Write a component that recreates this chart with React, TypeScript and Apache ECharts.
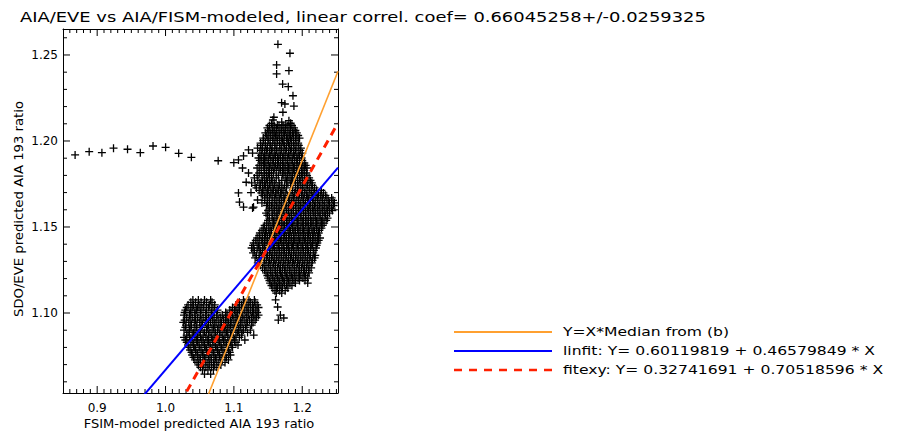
import React, { useEffect, useRef } from "react";
import * as echarts from "echarts";

const TITLE = "AIA/EVE vs AIA/FISM-modeled, linear correl. coef= 0.66045258+/-0.0259325";
const X_NAME = "FSIM-model predicted AIA 193 ratio";
const Y_NAME = "SDO/EVE predicted AIA 193 ratio";
const LEGEND_TEXTS = [
  "Y=X*Median from (b)",
  "linfit: Y= 0.60119819 + 0.46579849 * X",
  "fitexy: Y= 0.32741691 + 0.70518596 * X",
];

const X_MIN = 0.85;
const X_MAX = 1.2523;
const Y_MIN = 1.0535;
const Y_MAX = 1.2651;
const xMajor = [0.9, 1.0, 1.1, 1.2];
const yMajor = [1.1, 1.15, 1.2, 1.25];

const MEDIAN = 0.9906;
const LINFIT = [0.60119819, 0.46579849];
const FITEXY = [0.32741691, 0.70518596];

// isolated points (left row, upper spike, scattered arm, tail)
const isolated: number[][] = [
  [0.8677, 1.1919], [0.8883, 1.1938], [0.9069, 1.1932], [0.9239, 1.1958], [0.9444, 1.1952],
  [0.9631, 1.1932], [0.9817, 1.1971], [1.0001, 1.1963], [1.0192, 1.1928], [1.0378, 1.1905],
  [1.077, 1.1885], [1.0999, 1.1874],
  [1.1644, 1.2562], [1.182, 1.251], [1.1625, 1.2442], [1.1805, 1.2409], [1.1625, 1.239],
  [1.1713, 1.2331], [1.1796, 1.2316], [1.1864, 1.2263], [1.1698, 1.2223], [1.1746, 1.2215],
  [1.1878, 1.2203], [1.1717, 1.2167], [1.1585, 1.2138], [1.1571, 1.2122], [1.1805, 1.2118],
  [1.183, 1.2103], [1.1635, 1.2093], [1.170, 1.2110], [1.176, 1.2098], [1.155, 1.2102],
  [1.1067, 1.189], [1.1141, 1.1913], [1.1273, 1.193], [1.1346, 1.1959], [1.1214, 1.1948],
  [1.1126, 1.1843], [1.1214, 1.1814], [1.1067, 1.1698], [1.1082, 1.1645], [1.1141, 1.1616],
  [1.1287, 1.1616], [1.1346, 1.1657], [1.1273, 1.161], [1.118, 1.1760], [1.125, 1.1700],
  [1.161, 1.1076], [1.164, 1.1035], [1.168, 1.0988], [1.165, 1.0959], [1.173, 1.0971],
];

// dense clusters, one row per y value with the x values read on that row
const upperRows: [number, number[]][] = [
  [1.2090, [1.152, 1.159, 1.166, 1.172, 1.179, 1.185]],
  [1.2076, [1.149, 1.156, 1.162, 1.169, 1.175, 1.182, 1.188]],
  [1.2061, [1.151, 1.157, 1.163, 1.170, 1.176, 1.183, 1.190]],
  [1.2047, [1.146, 1.153, 1.159, 1.166, 1.173, 1.179, 1.186, 1.192]],
  [1.2032, [1.148, 1.154, 1.161, 1.167, 1.174, 1.181, 1.187, 1.194]],
  [1.2017, [1.143, 1.150, 1.157, 1.163, 1.170, 1.177, 1.183, 1.190, 1.196]],
  [1.2003, [1.143, 1.150, 1.157, 1.164, 1.171, 1.178, 1.184, 1.191]],
  [1.1988, [1.139, 1.146, 1.153, 1.160, 1.167, 1.173, 1.180, 1.187, 1.194]],
  [1.1974, [1.139, 1.146, 1.153, 1.160, 1.167, 1.174, 1.181, 1.188, 1.195]],
  [1.1959, [1.142, 1.149, 1.156, 1.163, 1.170, 1.177, 1.184, 1.191, 1.198]],
  [1.1945, [1.141, 1.148, 1.155, 1.162, 1.169, 1.176, 1.183, 1.190, 1.197]],
  [1.1930, [1.138, 1.145, 1.152, 1.159, 1.166, 1.173, 1.180, 1.187, 1.194, 1.200]],
  [1.1916, [1.140, 1.147, 1.154, 1.161, 1.168, 1.175, 1.182, 1.189, 1.196]],
  [1.1901, [1.136, 1.143, 1.150, 1.157, 1.164, 1.171, 1.178, 1.185, 1.192, 1.199]],
  [1.1887, [1.138, 1.145, 1.151, 1.158, 1.165, 1.172, 1.179, 1.186, 1.193, 1.200]],
  [1.1872, [1.140, 1.147, 1.154, 1.161, 1.168, 1.175, 1.182, 1.189, 1.196, 1.203]],
  [1.1858, [1.137, 1.143, 1.150, 1.157, 1.164, 1.171, 1.178, 1.185, 1.192, 1.199, 1.205]],
  [1.1843, [1.134, 1.145, 1.152, 1.159, 1.166, 1.173, 1.180, 1.187, 1.194, 1.201, 1.207]],
  [1.1829, [1.140, 1.148, 1.155, 1.162, 1.168, 1.175, 1.182, 1.189, 1.196, 1.203]],
  [1.1814, [1.137, 1.144, 1.151, 1.158, 1.171, 1.178, 1.185, 1.192, 1.199, 1.206]],
  [1.1800, [1.134, 1.145, 1.152, 1.165, 1.172, 1.179, 1.186, 1.193, 1.200, 1.207]],
  [1.1785, [1.130, 1.141, 1.148, 1.155, 1.162, 1.175, 1.182, 1.189, 1.196, 1.203, 1.210]],
  [1.1771, [1.135, 1.142, 1.149, 1.156, 1.170, 1.177, 1.184, 1.190, 1.197, 1.204, 1.212]],
  [1.1756, [1.126, 1.138, 1.145, 1.152, 1.159, 1.166, 1.179, 1.186, 1.193, 1.200, 1.207, 1.214]],
  [1.1742, [1.131, 1.139, 1.146, 1.153, 1.160, 1.167, 1.174, 1.183, 1.194, 1.201, 1.208, 1.215]],
  [1.1727, [1.133, 1.142, 1.149, 1.156, 1.163, 1.170, 1.177, 1.190, 1.197, 1.204, 1.211, 1.218]],
  [1.1713, [1.137, 1.144, 1.151, 1.158, 1.165, 1.172, 1.186, 1.193, 1.200, 1.207, 1.214, 1.221, 1.228]],
  [1.1698, [1.140, 1.147, 1.154, 1.161, 1.168, 1.175, 1.182, 1.189, 1.196, 1.203, 1.210, 1.217, 1.224, 1.231]],
  [1.1684, [1.142, 1.149, 1.156, 1.163, 1.170, 1.178, 1.185, 1.192, 1.199, 1.206, 1.213, 1.220, 1.227, 1.234]],
  [1.1669, [1.145, 1.152, 1.159, 1.166, 1.173, 1.180, 1.187, 1.194, 1.201, 1.208, 1.215, 1.222, 1.229, 1.236, 1.243]],
  [1.1655, [1.145, 1.152, 1.160, 1.167, 1.174, 1.181, 1.188, 1.195, 1.202, 1.209, 1.216, 1.223, 1.230, 1.238, 1.245]],
  [1.1640, [1.141, 1.149, 1.156, 1.163, 1.170, 1.177, 1.184, 1.191, 1.198, 1.205, 1.212, 1.219, 1.226, 1.233, 1.240, 1.247]],
  [1.1625, [1.148, 1.155, 1.162, 1.169, 1.176, 1.183, 1.190, 1.197, 1.204, 1.211, 1.218, 1.225, 1.232, 1.239, 1.246]],
  [1.1610, [1.152, 1.159, 1.166, 1.173, 1.180, 1.187, 1.194, 1.201, 1.208, 1.215, 1.222, 1.229, 1.236, 1.243]],
  [1.1596, [1.150, 1.159, 1.166, 1.173, 1.180, 1.187, 1.195, 1.202, 1.209, 1.216, 1.223, 1.230, 1.237, 1.244]],
  [1.1581, [1.147, 1.156, 1.163, 1.170, 1.177, 1.184, 1.191, 1.198, 1.205, 1.212, 1.219, 1.226, 1.233, 1.240]],
  [1.1567, [1.149, 1.156, 1.163, 1.170, 1.177, 1.184, 1.191, 1.198, 1.205, 1.212, 1.219, 1.226, 1.234]],
  [1.1552, [1.152, 1.160, 1.167, 1.174, 1.181, 1.188, 1.195, 1.202, 1.209, 1.216, 1.223, 1.230, 1.237]],
  [1.1538, [1.150, 1.158, 1.165, 1.172, 1.179, 1.186, 1.193, 1.200, 1.207, 1.214, 1.221, 1.228, 1.235]],
  [1.1523, [1.148, 1.156, 1.163, 1.170, 1.177, 1.184, 1.191, 1.198, 1.205, 1.212, 1.219, 1.226, 1.232]],
  [1.1509, [1.145, 1.153, 1.160, 1.167, 1.174, 1.181, 1.188, 1.195, 1.202, 1.209, 1.216, 1.223, 1.230]],
];

const middleRows: [number, number[]][] = [
  [1.1494, [1.143, 1.151, 1.158, 1.165, 1.172, 1.179, 1.186, 1.193, 1.200, 1.207, 1.214, 1.221, 1.228]],
  [1.1480, [1.141, 1.148, 1.155, 1.162, 1.169, 1.176, 1.183, 1.190, 1.197, 1.204, 1.211, 1.218, 1.225]],
  [1.1465, [1.138, 1.146, 1.153, 1.160, 1.167, 1.174, 1.181, 1.188, 1.195, 1.202, 1.209, 1.216, 1.224]],
  [1.1451, [1.137, 1.145, 1.152, 1.159, 1.166, 1.173, 1.180, 1.187, 1.194, 1.201, 1.208, 1.215, 1.222]],
  [1.1436, [1.134, 1.142, 1.149, 1.156, 1.163, 1.170, 1.177, 1.184, 1.191, 1.198, 1.205, 1.212, 1.219, 1.226]],
  [1.1422, [1.132, 1.140, 1.147, 1.154, 1.161, 1.168, 1.175, 1.182, 1.189, 1.196, 1.203, 1.210, 1.217, 1.224]],
  [1.1407, [1.129, 1.137, 1.145, 1.152, 1.159, 1.166, 1.173, 1.180, 1.187, 1.194, 1.201, 1.208, 1.215, 1.222]],
  [1.1393, [1.128, 1.136, 1.144, 1.151, 1.158, 1.165, 1.172, 1.179, 1.186, 1.193, 1.200, 1.207, 1.214, 1.221]],
  [1.1378, [1.126, 1.134, 1.142, 1.149, 1.156, 1.163, 1.170, 1.177, 1.184, 1.191, 1.198, 1.205, 1.212, 1.220]],
  [1.1364, [1.130, 1.139, 1.146, 1.153, 1.160, 1.167, 1.174, 1.181, 1.188, 1.195, 1.202, 1.209, 1.217]],
  [1.1349, [1.128, 1.137, 1.145, 1.152, 1.159, 1.166, 1.173, 1.180, 1.187, 1.194, 1.201, 1.208, 1.216]],
  [1.1335, [1.133, 1.141, 1.149, 1.156, 1.163, 1.170, 1.177, 1.184, 1.191, 1.198, 1.205, 1.212, 1.219]],
  [1.1320, [1.131, 1.140, 1.148, 1.155, 1.162, 1.169, 1.176, 1.183, 1.190, 1.197, 1.204, 1.211, 1.218]],
  [1.1306, [1.137, 1.145, 1.152, 1.159, 1.166, 1.173, 1.180, 1.187, 1.194, 1.201, 1.208, 1.215]],
  [1.1291, [1.135, 1.144, 1.151, 1.158, 1.165, 1.172, 1.179, 1.186, 1.193, 1.200, 1.207, 1.214]],
  [1.1277, [1.139, 1.147, 1.154, 1.161, 1.168, 1.175, 1.182, 1.189, 1.196, 1.203, 1.210]],
  [1.1262, [1.142, 1.150, 1.157, 1.164, 1.171, 1.178, 1.185, 1.192, 1.199, 1.206, 1.213]],
  [1.1248, [1.145, 1.153, 1.160, 1.167, 1.174, 1.181, 1.188, 1.195, 1.202, 1.209]],
  [1.1233, [1.147, 1.154, 1.161, 1.168, 1.175, 1.182, 1.189, 1.196, 1.203, 1.210]],
  [1.1218, [1.149, 1.156, 1.163, 1.170, 1.177, 1.184, 1.191, 1.198, 1.205]],
  [1.1203, [1.150, 1.157, 1.164, 1.171, 1.178, 1.186, 1.194, 1.201, 1.208]],
  [1.1189, [1.152, 1.159, 1.166, 1.173, 1.180, 1.188, 1.196, 1.204]],
  [1.1174, [1.153, 1.160, 1.167, 1.174, 1.182, 1.190, 1.208]],
  [1.1160, [1.155, 1.162, 1.169, 1.177, 1.185]],
  [1.1145, [1.157, 1.164, 1.171, 1.179]],
  [1.1130, [1.160, 1.167, 1.175]],
  [1.1116, [1.162, 1.170]],
];

const lowerRows: [number, number[]][] = [
  [1.1076, [1.040, 1.048, 1.057, 1.066, 1.114, 1.122, 1.130]],
  [1.1062, [1.037, 1.044, 1.052, 1.060, 1.068, 1.108, 1.116, 1.124, 1.131]],
  [1.1047, [1.033, 1.041, 1.049, 1.056, 1.064, 1.072, 1.103, 1.111, 1.119, 1.127, 1.134]],
  [1.1032, [1.031, 1.039, 1.047, 1.055, 1.063, 1.071, 1.098, 1.106, 1.113, 1.121, 1.129, 1.136]],
  [1.1017, [1.029, 1.037, 1.045, 1.052, 1.060, 1.068, 1.076, 1.094, 1.101, 1.108, 1.116, 1.124, 1.132]],
  [1.1003, [1.028, 1.036, 1.043, 1.051, 1.059, 1.067, 1.075, 1.088, 1.096, 1.103, 1.111, 1.119, 1.127, 1.134]],
  [1.0988, [1.027, 1.035, 1.043, 1.051, 1.059, 1.067, 1.075, 1.083, 1.090, 1.098, 1.105, 1.113, 1.121, 1.129, 1.136]],
  [1.0974, [1.031, 1.039, 1.047, 1.055, 1.063, 1.071, 1.080, 1.088, 1.095, 1.103, 1.110, 1.118, 1.126, 1.133]],
  [1.0959, [1.028, 1.036, 1.044, 1.052, 1.060, 1.069, 1.077, 1.085, 1.092, 1.100, 1.107, 1.115, 1.123, 1.131]],
  [1.0945, [1.026, 1.034, 1.042, 1.050, 1.058, 1.066, 1.074, 1.082, 1.090, 1.097, 1.105, 1.112, 1.120, 1.128]],
  [1.0930, [1.030, 1.038, 1.046, 1.054, 1.063, 1.072, 1.080, 1.088, 1.095, 1.103, 1.110, 1.118, 1.126]],
  [1.0916, [1.029, 1.037, 1.045, 1.053, 1.061, 1.070, 1.078, 1.086, 1.093, 1.101, 1.109, 1.117]],
  [1.0901, [1.027, 1.035, 1.043, 1.051, 1.060, 1.068, 1.076, 1.084, 1.091, 1.099, 1.107, 1.114, 1.124]],
  [1.0887, [1.033, 1.041, 1.049, 1.057, 1.065, 1.073, 1.081, 1.089, 1.097, 1.105, 1.112, 1.120]],
  [1.0872, [1.031, 1.039, 1.047, 1.055, 1.063, 1.071, 1.079, 1.087, 1.095, 1.103, 1.111, 1.129]],
  [1.0858, [1.027, 1.035, 1.043, 1.051, 1.059, 1.067, 1.075, 1.083, 1.091, 1.099, 1.108]],
  [1.0843, [1.029, 1.037, 1.045, 1.053, 1.061, 1.069, 1.077, 1.085, 1.093, 1.101, 1.116]],
  [1.0829, [1.031, 1.039, 1.047, 1.055, 1.063, 1.071, 1.079, 1.087, 1.095, 1.103]],
  [1.0814, [1.033, 1.041, 1.049, 1.057, 1.065, 1.073, 1.081, 1.089, 1.097, 1.106]],
  [1.0800, [1.034, 1.042, 1.050, 1.058, 1.066, 1.074, 1.082, 1.090, 1.098]],
  [1.0785, [1.036, 1.044, 1.052, 1.060, 1.068, 1.076, 1.084, 1.092]],
  [1.0771, [1.038, 1.046, 1.054, 1.062, 1.070, 1.078, 1.086, 1.094]],
  [1.0756, [1.039, 1.047, 1.055, 1.063, 1.071, 1.079, 1.087, 1.095]],
  [1.0742, [1.041, 1.049, 1.057, 1.065, 1.073, 1.081, 1.089]],
  [1.0727, [1.043, 1.051, 1.059, 1.067, 1.075, 1.083, 1.092]],
  [1.0713, [1.046, 1.054, 1.062, 1.070, 1.078, 1.087]],
  [1.0698, [1.048, 1.056, 1.064, 1.072, 1.081]],
  [1.0684, [1.051, 1.059, 1.067, 1.075]],
  [1.0669, [1.054, 1.062, 1.070]],
  [1.0645, [1.057, 1.066]],
];

const ORANGE = "#ffa030";
const BLUE = "#0000ff";
const RED = "#ff2000";
const FONT = "DejaVu Sans";
const PLUS = "path://M0,3.35H8V4.65H0Z M3.35,0H4.65V8H3.35Z";

function rowsToPoints(rows: [number, number[]][]): number[][] {
  const out: number[][] = [];
  rows.forEach(([y, xs]) => xs.forEach((x) => out.push([x, y])));
  return out;
}

function minorList(a: number, b: number): number[] {
  const r: number[] = [];
  for (let i = a; i <= b; i++) r.push(i / 100);
  return r;
}

export default function App() {
  const ref = useRef<HTMLDivElement>(null);
  useEffect(() => {
    if (!ref.current) return;
    const chart = echarts.init(ref.current, undefined, { renderer: "svg" });
    const points = [...isolated, ...rowsToPoints(upperRows), ...rowsToPoints(middleRows), ...rowsToPoints(lowerRows)];
    const xTicks = minorList(86, 125).map((v) => [v, xMajor.some((m) => Math.abs(m - v) < 1e-9) ? 7 : 4]);
    const yTicks = minorList(106, 126).map((v) => [v, yMajor.some((m) => Math.abs(m - v) < 1e-9) ? 7 : 4]);
    const lineAt = (f: (x: number) => number) => [[X_MIN, f(X_MIN)], [X_MAX, f(X_MAX)]];

    const axisBase = (min: number, max: number) => ({
      type: "value" as const,
      min,
      max,
      splitLine: { show: false },
      axisTick: { show: false },
      axisLine: { show: true, onZero: false, lineStyle: { color: "#000", width: 1 } },
    });
    const tickLine = (x1: number, y1: number, x2: number, y2: number) => ({
      type: "line",
      shape: { x1, y1, x2, y2 },
      style: { stroke: "#000", lineWidth: 1 },
    });

    chart.setOption({
      animation: false,
      backgroundColor: "#fff",
      grid: { left: 63, right: 565, top: 29, bottom: 40, containLabel: false },
      xAxis: [
        { ...axisBase(X_MIN, X_MAX), position: "bottom",
          axisLabel: { show: true, customValues: xMajor, formatter: (v: number) => v.toFixed(1), color: "#000", fontFamily: FONT, fontSize: 12, margin: 9 } },
        { ...axisBase(X_MIN, X_MAX), position: "top", axisLabel: { show: false } },
      ],
      yAxis: [
        { ...axisBase(Y_MIN, Y_MAX), position: "left",
          axisLabel: { show: true, customValues: yMajor, formatter: (v: number) => v.toFixed(2), color: "#000", fontFamily: FONT, fontSize: 12, margin: 5 } },
        { ...axisBase(Y_MIN, Y_MAX), position: "right", axisLabel: { show: false } },
      ],
      graphic: [
        { type: "text", x: 20, y: 17, scaleX: 1.28, style: { text: TITLE, fill: "#000", fontFamily: FONT, fontSize: 14, verticalAlign: "middle" } },
        { type: "text", x: 199, y: 424, scaleX: 1.085, style: { text: X_NAME, fill: "#000", fontFamily: FONT, fontSize: 12, align: "center", verticalAlign: "middle" } },
        { type: "text", x: 19, y: 209, rotation: Math.PI / 2, scaleX: 1.1, style: { text: Y_NAME, fill: "#000", fontFamily: FONT, fontSize: 12, align: "center", verticalAlign: "middle" } },
        ...[332, 351, 370].flatMap((y, i) => [
          {
            type: "line",
            shape: { x1: 454, y1: y, x2: 552, y2: y },
            style: { stroke: [ORANGE, BLUE, RED][i], lineWidth: i === 2 ? 2.5 : 2, lineDash: i === 2 ? [8, 7] : null },
          },
          {
            type: "text",
            x: 563,
            y,
            scaleX: 1.3,
            style: { text: LEGEND_TEXTS[i], fill: "#000", fontFamily: FONT, fontSize: 12, verticalAlign: "middle", align: "left" },
          },
        ]),
      ],
      series: [
        { type: "scatter", xAxisIndex: 0, yAxisIndex: 0, data: points, symbol: PLUS, symbolSize: 8, itemStyle: { color: "#000", opacity: 1 }, silent: true },
        { type: "line", xAxisIndex: 0, yAxisIndex: 0, data: lineAt((x) => x * MEDIAN), symbol: "none", clip: true, silent: true, lineStyle: { color: ORANGE, width: 1.6 } },
        { type: "line", xAxisIndex: 0, yAxisIndex: 0, data: lineAt((x) => LINFIT[0] + LINFIT[1] * x), symbol: "none", clip: true, silent: true, lineStyle: { color: BLUE, width: 2 } },
        { type: "line", xAxisIndex: 0, yAxisIndex: 0, data: lineAt((x) => FITEXY[0] + FITEXY[1] * x), symbol: "none", clip: true, silent: true, lineStyle: { color: RED, width: 3, type: [8, 6] } },
        {
          type: "custom", xAxisIndex: 0, yAxisIndex: 0, silent: true, data: xTicks,
          renderItem: (_p: any, api: any) => {
            const v = api.value(0);
            const len = api.value(1);
            const b = api.coord([v, Y_MIN]);
            const t = api.coord([v, Y_MAX]);
            return { type: "group", children: [tickLine(b[0], b[1], b[0], b[1] - len), tickLine(t[0], t[1], t[0], t[1] + len)] };
          },
        },
        {
          type: "custom", xAxisIndex: 0, yAxisIndex: 0, silent: true, data: yTicks,
          encode: { x: 1, y: 0 },
          renderItem: (_p: any, api: any) => {
            const v = api.value(0);
            const len = api.value(1);
            const l = api.coord([X_MIN, v]);
            const r = api.coord([X_MAX, v]);
            return { type: "group", children: [tickLine(l[0], l[1], l[0] + len, l[1]), tickLine(r[0], r[1], r[0] - len, r[1])] };
          },
        },
      ],
    });
    return () => chart.dispose();
  }, []);
  return <div ref={ref} style={{ position: "fixed", left: 0, top: 0, width: 903, height: 433, background: "#fff" }} />;
}
